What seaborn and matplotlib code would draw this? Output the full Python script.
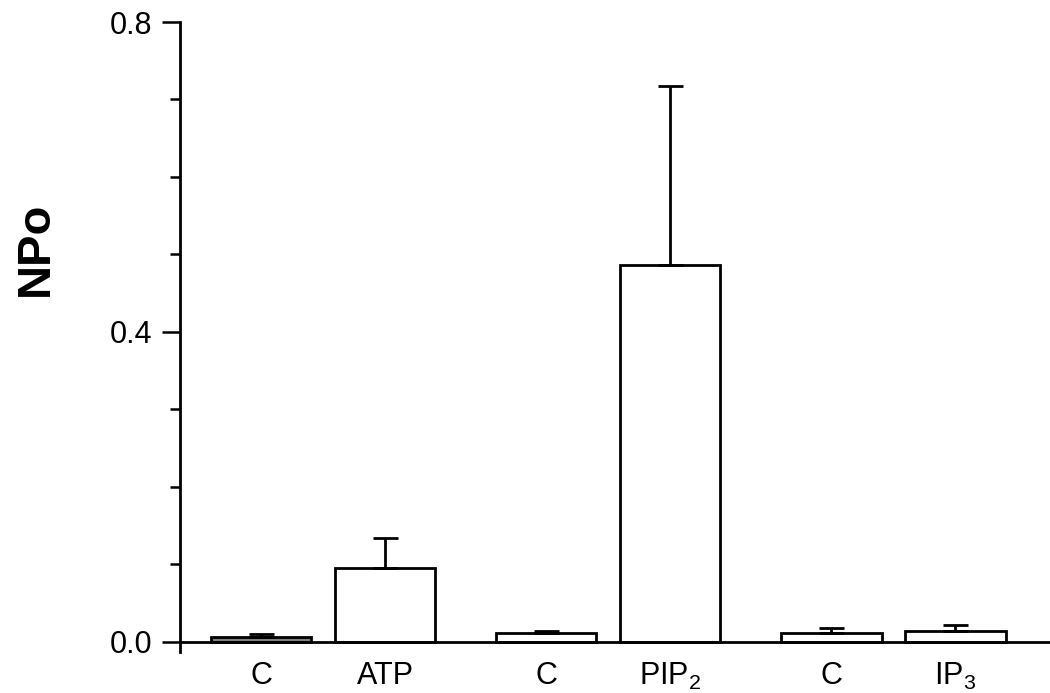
import numpy as np
import pandas as pd
import matplotlib
matplotlib.use("Agg")
import matplotlib.pyplot as plt
import seaborn as sns

# Data
labels = ["C", "ATP", "C", "PIP$_2$", "C", "IP$_3$"]
npo_mean = [0.007, 0.096, 0.011, 0.486, 0.011, 0.014]
npo_err = [0.003, 0.038, 0.003, 0.231, 0.007, 0.008]
bar_fills = ["#808080", "white", "white", "white", "white", "white"]

# layout: pairs of bars, wider gap between pairs
group_gap = 1.3
positions = [(i // 2) * (1 + group_gap) + (i % 2) for i in range(len(labels))]

sns.set_style("ticks")
plt.rcParams["font.family"] = ["Liberation Sans", "DejaVu Sans"]
plt.rcParams["mathtext.fontset"] = "custom"
plt.rcParams["mathtext.rm"] = "Liberation Sans"
plt.rcParams["mathtext.it"] = "Liberation Sans"
plt.rcParams["text.color"] = "black"
plt.rcParams["axes.labelcolor"] = "black"
plt.rcParams["axes.edgecolor"] = "black"
plt.rcParams["xtick.color"] = "black"
plt.rcParams["ytick.color"] = "black"

df = pd.DataFrame({"pos": positions, "npo": npo_mean})

fig = plt.figure(figsize=(10.5, 6.93), dpi=100)
ax = fig.add_axes([180 / 1050, 41 / 693, 870 / 1050, 630 / 693])

sns.barplot(data=df, x="pos", y="npo", native_scale=True, width=0.81,
            color="white", edgecolor="black", linewidth=2.0, ax=ax,
            errorbar=None)
for patch, fc in zip(ax.patches, bar_fills):
    patch.set_facecolor(fc)

ax.errorbar(positions, npo_mean, yerr=[np.zeros(len(npo_err)), npo_err],
            fmt="none", ecolor="black", elinewidth=2.0, capsize=9,
            capthick=2.0, zorder=5)

ax.set_xlim(-0.653, 6.363)
ax.set_ylim(-0.013, 0.8)
ax.spines["bottom"].set_position(("data", 0))
ax.spines["top"].set_visible(False)
ax.spines["right"].set_visible(False)
for s in ("left", "bottom"):
    ax.spines[s].set_linewidth(2.0)

ax.set_xticks(positions)
ax.set_xticklabels(labels, fontsize=22)
ax.tick_params(axis="x", length=0, pad=14)

ax.set_yticks([0.0, 0.4, 0.8])
ax.set_yticklabels(["0.0", "0.4", "0.8"], fontsize=22)
ax.set_yticks(np.arange(0.1, 0.8, 0.1), minor=True)
ax.tick_params(axis="y", which="major", length=13, width=1.8, pad=7)
ax.tick_params(axis="y", which="minor", length=7, width=1.8)

ax.set_xlabel("")
ax.set_ylabel("NPo", fontsize=34, fontweight="bold")
ax.yaxis.set_label_coords(-0.14, 0.64)

fig.savefig("out.png", dpi=100)
